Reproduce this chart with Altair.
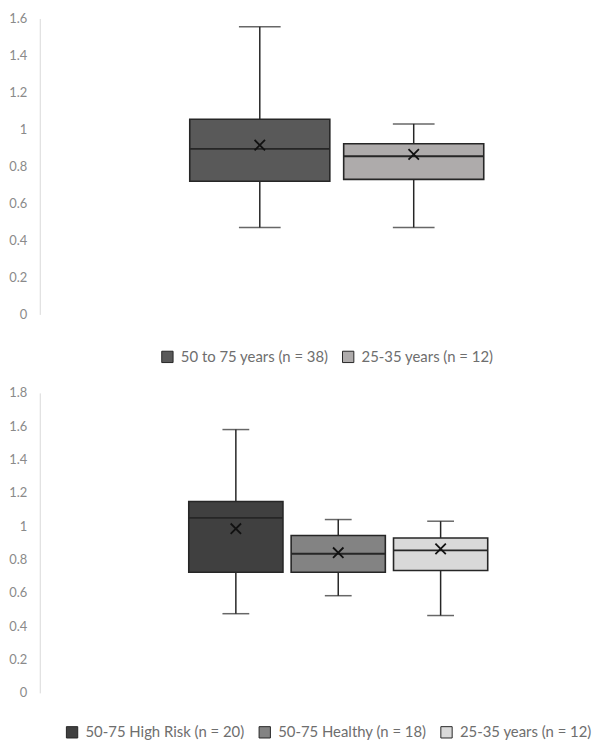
import altair as alt
import pandas as pd

# ---- data ----
top_groups = ["50 to 75 years (n = 38)", "25-35 years (n = 12)"]
top_min = [0.47, 0.47]
top_q1 = [0.72, 0.73]
top_median = [0.895, 0.855]
top_q3 = [1.055, 0.923]
top_max = [1.555, 1.03]
top_mean = [0.915, 0.865]
top_colors = ["#595959", "#aeabab"]
top_ticks = [0, 0.2, 0.4, 0.6, 0.8, 1.0, 1.2, 1.4, 1.6]

bot_groups = ["50-75 High Risk (n = 20)", "50-75 Healthy (n = 18)", "25-35 years (n = 12)"]
bot_min = [0.475, 0.583, 0.464]
bot_q1 = [0.724, 0.724, 0.734]
bot_median = [1.05, 0.835, 0.855]
bot_q3 = [1.148, 0.944, 0.929]
bot_max = [1.58, 1.04, 1.03]
bot_mean = [0.985, 0.841, 0.864]
bot_colors = ["#404040", "#838383", "#d9d9d9"]
bot_ticks = [0, 0.2, 0.4, 0.6, 0.8, 1.0, 1.2, 1.4, 1.6, 1.8]

FONT = "Lato"
EDGE = "#262626"
XMARK = "M-1,-1L1,1M1,-1L-1,1"


def box_panel(groups, mn, q1, med, q3, mx, mean, colors, ticks, ymax,
              height, band_range, pad_inner, cap, legend_x, legend_y):
    df = pd.DataFrame({"group": groups, "min": mn, "q1": q1, "median": med,
                       "q3": q3, "max": mx, "mean": mean})
    xs = alt.Scale(domain=groups, range=band_range, paddingInner=pad_inner, paddingOuter=0)
    x = alt.X("group:N", scale=xs, axis=None, sort=groups)
    ys = alt.Scale(domain=[0, ymax], nice=False, zero=True)
    yaxis = alt.Axis(values=ticks, format="~g", grid=False, ticks=False, domain=True,
                     domainColor="#d9d9d9", domainWidth=1, labelColor="#8a8a8a",
                     labelFont=FONT, labelFontSize=13, labelPadding=13,
                     labelOverlap=False, labelBound=False, tickCount=len(ticks),
                     minExtent=32, maxExtent=32, title=None)

    def Y(field):
        return alt.Y(field, scale=ys, axis=yaxis)

    base = alt.Chart(df)
    lower = base.mark_rule(color=EDGE, strokeWidth=1.5).encode(
        x=x, y=Y("min:Q"), y2="q1:Q")
    upper = base.mark_rule(color=EDGE, strokeWidth=1.5).encode(
        x=x, y=Y("q3:Q"), y2="max:Q")
    cap_lo = base.mark_tick(color=EDGE, thickness=1.5, size=cap).encode(
        x=x, y=Y("min:Q"))
    cap_hi = base.mark_tick(color=EDGE, thickness=1.5, size=cap).encode(
        x=x, y=Y("max:Q"))
    box = base.mark_bar(stroke=EDGE, strokeWidth=1.6, opacity=1).encode(
        x=x, y=Y("q1:Q"), y2="q3:Q",
        color=alt.Color("group:N", sort=groups,
                        scale=alt.Scale(domain=groups, range=colors),
                        legend=alt.Legend(title=None, orient="none", direction="horizontal",
                                          legendX=legend_x, legendY=legend_y,
                                          symbolType="square", symbolSize=130,
                                          symbolStrokeColor=EDGE, symbolStrokeWidth=1,
                                          symbolOpacity=1,
                                          labelFont=FONT, labelFontSize=15,
                                          labelColor="#6e6e6e", labelOffset=6,
                                          columnPadding=11, labelLimit=400)))
    median = base.mark_bar(stroke=EDGE, strokeWidth=2, fillOpacity=0).encode(
        x=x, y=Y("median:Q"), y2="median:Q")
    meanpt = base.mark_point(shape=XMARK, size=110, strokeWidth=1.8, color="#111111",
                             filled=False, opacity=1).encode(
        x=x, y=Y("mean:Q"))
    return alt.layer(lower, upper, cap_lo, cap_hi, box, median, meanpt).properties(
        width=552, height=height)


top = box_panel(top_groups, top_min, top_q1, top_median, top_q3, top_max, top_mean,
                top_colors, top_ticks, 1.6, 298, [151, 447], 0.09, 42, 121, 333)
bottom = box_panel(bot_groups, bot_min, bot_q1, bot_median, bot_q3, bot_max, bot_mean,
                   bot_colors, bot_ticks, 1.8, 302, [150, 451], 0.08, 27, 25, 334)

chart = alt.vconcat(top, bottom, spacing=22).resolve_scale(
    color="independent", x="independent", y="independent"
).resolve_legend(color="independent").properties(
    padding={"left": 0, "top": 2, "right": 0, "bottom": 5}
).configure_view(stroke=None).configure_axis(labelOverlap=False)

chart.save("out.html", embed_options={"renderer": "svg", "actions": False})
